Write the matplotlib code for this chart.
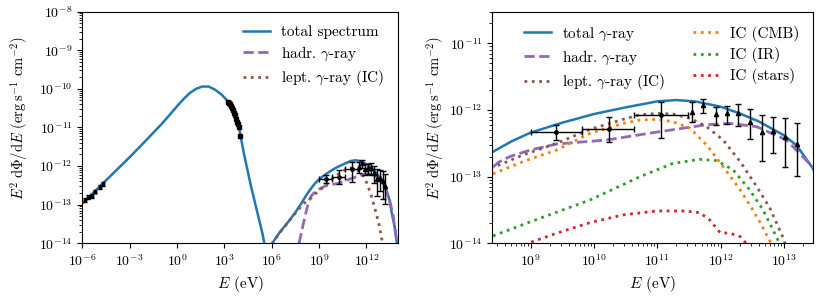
# Broadband SED of the source: full spectrum (left) and zoom on the gamma-ray band (right).

import matplotlib
matplotlib.use("Agg")
import matplotlib.pyplot as plt
from matplotlib.ticker import LogLocator, NullLocator
import numpy as np

plt.rcParams["font.family"] = "serif"
plt.rcParams["font.serif"] = ["cmr10"]
plt.rcParams["mathtext.fontset"] = "cm"
plt.rcParams["axes.formatter.use_mathtext"] = True
plt.rcParams["axes.unicode_minus"] = False
plt.rcParams["font.size"] = 10

# all values are log10(E / eV) and log10(E^2 dPhi/dE / erg s^-1 cm^-2)
sync_logE = [-6.0, -5.0, -4.0, -3.0, -2.0, -1.0, -0.5, 0.0, 0.4, 0.8, 1.2, 1.6,
             2.0, 2.4, 2.8, 3.2, 3.6, 3.95, 4.26, 4.69, 5.10, 5.42, 5.55, 5.75, 5.95]
sync_logF = [-12.97, -12.57, -12.17, -11.77, -11.35, -10.92, -10.69, -10.45, -10.27,
             -10.11, -10.00, -9.94, -9.94, -10.02, -10.14, -10.31, -10.60, -11.06,
             -11.72, -12.53, -13.22, -13.76, -14.05, -14.5, -14.1]

tot_logE = [6.0, 6.5, 7.0, 7.5, 7.9, 8.2, 8.4, 8.7, 9.0, 9.5, 10.0, 10.5, 11.0, 11.3,
            11.6, 12.0, 12.3, 12.6, 13.0, 13.2, 13.46, 13.6, 13.8, 13.93, 14.0]
tot_logF = [-14.02, -13.72, -13.47, -13.20, -12.95, -12.75, -12.63, -12.47, -12.34,
            -12.19, -12.06, -11.96, -11.87, -11.85, -11.87, -11.95, -12.05, -12.17,
            -12.38, -12.53, -12.88, -13.2, -13.6, -14.0, -14.4]

hadr_logE = [7.73, 8.0, 8.2, 8.36, 8.5, 8.67, 9.0, 9.41, 10.2, 11.0, 11.5, 11.78,
             12.15, 12.57, 13.04, 13.46, 13.7, 13.9, 14.0]
hadr_logF = [-14.0, -13.5, -13.15, -12.9, -12.78, -12.70, -12.60, -12.51, -12.45,
             -12.33, -12.26, -12.22, -12.20, -12.25, -12.45, -12.86, -13.3, -13.9, -14.4]

lept_logE = [6.0, 6.5, 7.0, 7.5, 8.0, 8.52, 8.88, 9.41, 9.94, 10.46, 10.73, 11.0,
             11.25, 11.52, 11.78, 12.04, 12.31, 12.57, 12.78, 12.99, 13.05]
lept_logF = [-14.02, -13.73, -13.48, -13.22, -12.98, -12.82, -12.675, -12.50, -12.29,
             -12.14, -12.07, -12.05, -12.06, -12.125, -12.25, -12.45, -12.775, -13.15,
             -13.475, -13.925, -14.1]

cmb_logE = [8.3, 8.88, 9.41, 9.94, 10.46, 10.73, 10.99, 11.25, 11.52, 11.78, 12.04,
            12.31, 12.46, 12.62, 12.78, 12.85]
cmb_logF = [-13.0, -12.775, -12.60, -12.35, -12.20, -12.15, -12.14, -12.175, -12.275,
            -12.525, -12.85, -13.2, -13.425, -13.68, -13.97, -14.1]

ir_logE = [8.3, 8.52, 9.15, 9.94, 10.73, 11.25, 11.67, 11.94, 12.2, 12.46, 12.67,
           12.88, 12.95]
ir_logF = [-13.93, -13.85, -13.625, -13.35, -13.0, -12.8, -12.74, -12.76, -12.9,
           -13.2, -13.5, -13.9, -14.05]

star_logE = [8.9, 9.41, 9.94, 10.46, 10.99, 11.41, 11.67, 11.83, 11.99, 12.15, 12.31,
             12.38, 12.45]
star_logF = [-14.02, -13.85, -13.69, -13.575, -13.515, -13.515, -13.54, -13.65,
             -13.84, -13.85, -13.9, -13.975, -14.05]

# data points
radio_logE = [-5.83, -5.62, -5.41, -5.20, -4.89, -4.68]
radio_logF = [-12.88, -12.81, -12.77, -12.66, -12.55, -12.46]

xray_logE = [3.25, 3.30, 3.36, 3.42, 3.48, 3.54, 3.60, 3.66, 3.72, 3.78, 3.84, 3.90, 4.01]
xray_logF = [-10.33, -10.36, -10.40, -10.44, -10.49, -10.55, -10.62, -10.69, -10.77,
             -10.85, -10.92, -10.99, -11.22]

fermi_logE = [9.41, 10.24, 11.06]
fermi_logE_lo = [9.0, 9.82, 10.63]
fermi_logE_hi = [9.82, 10.63, 11.48]
fermi_logF = [-12.335, -12.29, -12.07]
fermi_logF_lo = [-12.45, -12.475, -12.425]
fermi_logF_hi = [-12.225, -12.11, -11.885]

hess_logE = [11.55, 11.73, 11.92, 12.10, 12.28, 12.46, 12.65, 12.83, 13.02, 13.20]
hess_logF = [-12.025, -11.93, -12.065, -12.05, -12.05, -12.185, -12.335, -12.31,
             -12.40, -12.51]
hess_logF_lo = [-12.175, -12.05, -12.225, -12.21, -12.235, -12.44, -12.765, -12.65,
                -12.86, -12.99]
hess_logF_hi = [-11.885, -11.835, -11.95, -11.94, -11.915, -11.99, -12.07, -12.1,
                -12.125, -12.2]

left_xticks = [-6, -3, 0, 3, 6, 9, 12]
left_yticks = [-14, -13, -12, -11, -10, -9, -8]
right_xticks = [9, 10, 11, 12, 13]
right_yticks = [-14, -13, -12, -11]

YLABEL = r"$E^2\;\mathrm{d}\Phi/\mathrm{d}E$ (erg$\,$s$^{-1}$ cm$^{-2}$)"
LEG = dict(frameon=False, fontsize=11, labelspacing=0.35, handlelength=1.75,
           handletextpad=0.7, columnspacing=1.8)


def p(a):
    return 10.0 ** np.asarray(a)


def draw_gamma_data(ax):
    e, f = p(fermi_logE), p(fermi_logF)
    ax.errorbar(e, f,
                xerr=[e - p(fermi_logE_lo), p(fermi_logE_hi) - e],
                yerr=[f - p(fermi_logF_lo), p(fermi_logF_hi) - f],
                fmt="o", color="black", ms=2.5, elinewidth=1, capsize=2, zorder=5)
    e, f = p(hess_logE), p(hess_logF)
    ax.errorbar(e, f, yerr=[f - p(hess_logF_lo), p(hess_logF_hi) - f],
                fmt="^", color="black", ms=3, elinewidth=1, capsize=2, zorder=5)


fig = plt.figure(figsize=(8.3, 2.97), dpi=100)
ax1 = fig.add_axes([0.0992, 0.181, 0.3803, 0.7797])
ax2 = fig.add_axes([0.5932, 0.181, 0.3866, 0.7797])

# left: full SED
tot_e = np.concatenate([p(sync_logE), p(tot_logE)])
tot_f = np.concatenate([p(sync_logF), p(tot_logF)])
ax1.plot(tot_e, tot_f, color="tab:blue", lw=1.8, label="total spectrum")
ax1.plot(p(hadr_logE), p(hadr_logF), color="tab:purple", ls="--", lw=2,
         label=r"hadr. $\gamma$-ray")
ax1.plot(p(lept_logE), p(lept_logF), color="tab:brown", ls=":", lw=2,
         label=r"lept. $\gamma$-ray (IC)")

e, f = p(radio_logE), p(radio_logF)
ax1.errorbar(e, f, xerr=[e - e / 10 ** 0.08, e * 10 ** 0.08 - e],
             yerr=[f - f / 10 ** 0.05, f * 10 ** 0.05 - f],
             fmt="s", color="black", ms=2, elinewidth=1, capsize=1.5, zorder=5)
ax1.plot(p(xray_logE), p(xray_logF), "s", color="black", ms=3, zorder=5)
draw_gamma_data(ax1)

ax1.set_xscale("log")
ax1.set_yscale("log")
ax1.set_xlim(1e-6, 1e14)
ax1.set_ylim(1e-14, 1e-8)
ax1.set_xticks(p(left_xticks))
ax1.set_yticks(p(left_yticks))
ax1.xaxis.set_minor_locator(NullLocator())
ax1.yaxis.set_minor_locator(LogLocator(base=10, subs=np.arange(2, 10), numticks=10))
ax1.set_xlabel(r"$E$ (eV)", fontsize=11)
ax1.set_ylabel(YLABEL, fontsize=10.5)
ax1.yaxis.set_label_coords(-0.165, 0.54)
ax1.legend(loc="upper right", **LEG)

# right: gamma-ray zoom
ax2.plot(p(tot_logE), p(tot_logF), color="tab:blue", lw=1.8, label=r"total $\gamma$-ray")
ax2.plot(p(hadr_logE), p(hadr_logF), color="tab:purple", ls="--", lw=2,
         label=r"hadr. $\gamma$-ray")
ax2.plot(p(lept_logE), p(lept_logF), color="tab:brown", ls=":", lw=2,
         label=r"lept. $\gamma$-ray (IC)")
ax2.plot(p(cmb_logE), p(cmb_logF), color="tab:orange", ls=":", lw=2, label="IC (CMB)")
ax2.plot(p(ir_logE), p(ir_logF), color="tab:green", ls=":", lw=2, label="IC (IR)")
ax2.plot(p(star_logE), p(star_logF), color="tab:red", ls=":", lw=2, label="IC (stars)")
draw_gamma_data(ax2)

ax2.set_xscale("log")
ax2.set_yscale("log")
ax2.set_xlim(2.5e8, 2.9e13)
ax2.set_ylim(1e-14, 3e-11)
ax2.set_xticks(p(right_xticks))
ax2.set_yticks(p(right_yticks))
ax2.xaxis.set_minor_locator(LogLocator(base=10, subs=np.arange(2, 10), numticks=10))
ax2.yaxis.set_minor_locator(LogLocator(base=10, subs=np.arange(2, 10), numticks=10))
ax2.set_xlabel(r"$E$ (eV)", fontsize=11)
ax2.set_ylabel(YLABEL, fontsize=10.5)
ax2.yaxis.set_label_coords(-0.144, 0.54)
ax2.legend(loc="upper right", ncol=2, **LEG)

fig.savefig("out.png", dpi=100)
